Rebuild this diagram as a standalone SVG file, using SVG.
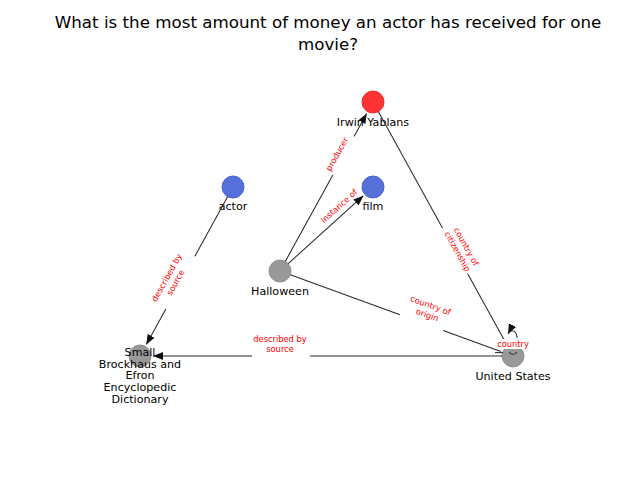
<svg xmlns="http://www.w3.org/2000/svg" width="640" height="480" viewBox="0 0 640 480">
<style>
.edge{stroke:#2a2a2a;stroke-width:1.05;fill:none}
.lbg{fill:#fff;stroke:none}
.el{font-family:"DejaVu Sans",sans-serif;font-size:8.3px;fill:#ff0000;text-anchor:middle}
.nl{font-family:"DejaVu Sans",sans-serif;font-size:11.1px;fill:#000;text-anchor:middle}
.title{font-family:"DejaVu Sans",sans-serif;font-size:16.7px;fill:#000;text-anchor:middle}
.red{fill:#ff3333;stroke:#f02a2a}
.blue{fill:#5570d8;stroke:#4a64cc}
.gray{fill:#999;stroke:#8f8f8f}
</style>
<defs>
<marker id="ah" markerUnits="userSpaceOnUse" markerWidth="10" markerHeight="8" viewBox="0 0 10 8" refX="10" refY="4" orient="auto">
<path d="M0,0 L10,4 L0,8 z" fill="#111"/>
</marker>
</defs>
<rect width="640" height="480" fill="#fff"/>
<text class="title" x="328" y="28">What is the most amount of money an actor has received for one</text>
<text class="title" x="328" y="50">movie?</text>

<g id="nodes">
<g id="n-irwin"><circle class="red" cx="373" cy="102" r="11"/><text class="nl" x="373" y="126">Irwin Yablans</text></g>
<g id="n-film"><circle class="blue" cx="373" cy="187" r="11"/><text class="nl" x="373" y="210">film</text></g>
<g id="n-actor"><circle class="blue" cx="233" cy="187" r="11"/><text class="nl" x="233" y="210">actor</text></g>
<g id="n-halloween"><circle class="gray" cx="280" cy="271" r="11"/><text class="nl" x="280" y="295">Halloween</text></g>
<g id="n-us"><circle class="gray" cx="513" cy="356" r="11"/><text class="nl" x="513" y="380">United States</text></g>
<g id="n-brockhaus"><circle class="gray" cx="140" cy="356" r="11"/>
<text class="nl" x="140" y="356">Small</text>
<text class="nl" x="140" y="367.5">Brockhaus and</text>
<text class="nl" x="140" y="379">Efron</text>
<text class="nl" x="140" y="391">Encyclopedic</text>
<text class="nl" x="140" y="402.5">Dictionary</text>
</g>
</g>

<g id="edges">
<line class="edge" x1="285.3" y1="261.4" x2="366.7" y2="113.4" marker-end="url(#ah)"/>
<line class="edge" x1="288.2" y1="263.6" x2="363.4" y2="195.7" marker-end="url(#ah)"/>
<line class="edge" x1="290.3" y1="274.8" x2="500.8" y2="351.5"/>
<line class="edge" x1="495" y1="352.6" x2="503" y2="352.6"/>
<line class="edge" x1="378.3" y1="111.6" x2="506.7" y2="344.6"/>
<line class="edge" x1="502" y1="356" x2="153" y2="356" marker-end="url(#ah)"/>
<line class="edge" x1="227.7" y1="196.6" x2="146.3" y2="344.6" marker-end="url(#ah)"/>
<path class="edge" d="M509,352 Q513,357 517,352"/>
<path class="edge" d="M517,338 C517,331 511,328 508,334" marker-end="url(#ah)"/>

<rect class="lbg" x="-22" y="-6" width="44" height="12" transform="translate(344,156) rotate(-61)"/>
<text class="el" transform="translate(337,154) rotate(-61)" y="3">producer</text>

<text class="el" transform="translate(339,206) rotate(-42)" y="3">instance of</text>

<rect class="lbg" x="-23" y="-5" width="46" height="10" transform="translate(421,324) rotate(20)"/>
<text class="el" transform="translate(429,310) rotate(20)"><tspan x="0" y="-2">country of</tspan><tspan x="0" y="8">origin</tspan></text>

<rect class="lbg" x="-26" y="-5" width="52" height="10" transform="translate(455,251) rotate(61)"/>
<text class="el" transform="translate(462,249) rotate(61)"><tspan x="0" y="-2">country of</tspan><tspan x="0" y="8">citizenship</tspan></text>

<rect class="lbg" x="252" y="350" width="58" height="9"/>
<text class="el" x="280" y="341.5">described by</text>
<text class="el" x="280" y="351.5">source</text>

<rect class="lbg" x="-30" y="-5" width="60" height="10" transform="translate(181,283) rotate(-61)"/>
<text class="el" transform="translate(171,280) rotate(-61)"><tspan x="0" y="-2">described by</tspan><tspan x="0" y="8">source</tspan></text>

<rect class="lbg" x="497" y="339" width="32" height="10"/>
<text class="el" x="513" y="347">country</text>
</g>
</svg>
